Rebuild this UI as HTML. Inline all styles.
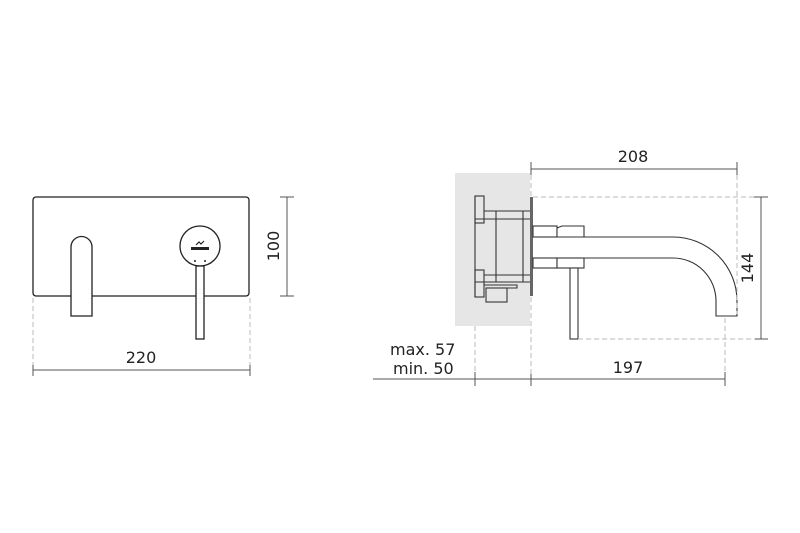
<!DOCTYPE html>
<html><head><meta charset="utf-8"><style>
html,body{margin:0;padding:0;background:#fff;}
svg{display:block;}
text{font-family:"DejaVu Sans","Liberation Sans",sans-serif;fill:#222;}
</style></head><body>
<svg width="800" height="533" viewBox="0 0 800 533" xmlns="http://www.w3.org/2000/svg">
<g fill="none" stroke="#222" stroke-width="1.3">
<rect x="33" y="197" width="216" height="99" rx="3" fill="#fff"/>
<path d="M71,316 V247 A10.5,10.5 0 0 1 92,247 V316 Z" fill="#fff"/>
<circle cx="200" cy="246" r="20" fill="#fff"/>
<rect x="196" y="266" width="8" height="73" fill="#fff"/>
</g>
<rect x="191" y="247" width="18" height="3" fill="#222"/>
<path d="M196,245 l3,-3 l2,2 l3,-3" stroke="#222" stroke-width="1.2" fill="none"/>
<circle cx="195" cy="261" r="1" fill="#222"/><circle cx="205" cy="261" r="1" fill="#222"/>
<g stroke="#555" stroke-width="1">
<line x1="287" y1="197" x2="287" y2="296"/>
<line x1="280" y1="197" x2="294" y2="197"/>
<line x1="280" y1="296" x2="294" y2="296"/>
<line x1="33" y1="370" x2="250" y2="370"/>
<line x1="33" y1="363" x2="33" y2="376"/>
<line x1="250" y1="363" x2="250" y2="376"/>
</g>
<g stroke="#bbb" stroke-width="1" stroke-dasharray="5,3">
<line x1="33" y1="298" x2="33" y2="365"/>
<line x1="250" y1="298" x2="250" y2="365"/>
</g>
<text x="141" y="363" font-size="16" text-anchor="middle">220</text>
<text transform="translate(279,246) rotate(-90)" font-size="16" text-anchor="middle">100</text>

<rect x="455" y="173" width="75" height="153" fill="#e6e6e6"/>
<rect x="530" y="197" width="3" height="99" fill="#666"/>
<g fill="none" stroke="#333" stroke-width="1.1">
<line x1="475" y1="196" x2="475" y2="297"/>
<rect x="475" y="196" width="9" height="27"/>
<rect x="475" y="270" width="9" height="27"/>
<line x1="484" y1="211" x2="530" y2="211"/>
<line x1="475" y1="219" x2="530" y2="219"/>
<line x1="484" y1="275" x2="530" y2="275"/>
<line x1="475" y1="282" x2="530" y2="282"/>
<line x1="496" y1="211" x2="496" y2="282"/>
<line x1="523" y1="211" x2="523" y2="282"/>
<path d="M484,285 H517 V288 H507"/>
<rect x="486" y="288" width="21" height="14"/>
<rect x="533" y="226" width="24" height="11" fill="#fff"/>
<path d="M557,237 V228 L562,226 H584 V237" fill="#fff"/>
<rect x="533" y="258" width="24" height="10" fill="#fff"/>
<rect x="557" y="258" width="27" height="10" fill="#fff"/>
<path d="M533,237 H673 A64,64 0 0 1 737,301 V316 H716 V301 A43,43 0 0 0 673,258 H533"/>
<rect x="570" y="268" width="8" height="71" fill="#fff"/>
</g>
<g stroke="#555" stroke-width="1">
<line x1="531" y1="169" x2="737" y2="169"/>
<line x1="531" y1="162" x2="531" y2="175"/>
<line x1="737" y1="162" x2="737" y2="175"/>
<line x1="761" y1="197" x2="761" y2="339"/>
<line x1="754" y1="197" x2="768" y2="197"/>
<line x1="754" y1="339" x2="768" y2="339"/>
<line x1="373" y1="379" x2="725" y2="379"/>
<line x1="475" y1="372" x2="475" y2="386"/>
<line x1="531" y1="372" x2="531" y2="386"/>
<line x1="725" y1="372" x2="725" y2="386"/>
</g>
<g stroke="#bbb" stroke-width="1" stroke-dasharray="5,3">
<line x1="737" y1="175" x2="737" y2="314"/>
<line x1="533" y1="197" x2="755" y2="197"/>
<line x1="578" y1="339" x2="755" y2="339"/>
<line x1="725" y1="318" x2="725" y2="374"/>
<line x1="475" y1="326" x2="475" y2="374"/>
<line x1="531" y1="175" x2="531" y2="196"/>
<line x1="531" y1="297" x2="531" y2="374"/>
</g>
<text x="633" y="162" font-size="16" text-anchor="middle">208</text>
<text x="628" y="373" font-size="16" text-anchor="middle">197</text>
<text transform="translate(753,268) rotate(-90)" font-size="16" text-anchor="middle">144</text>
<text x="390" y="355" font-size="16">max. 57</text>
<text x="393" y="374" font-size="16">min. 50</text>
</svg>
</body></html>
